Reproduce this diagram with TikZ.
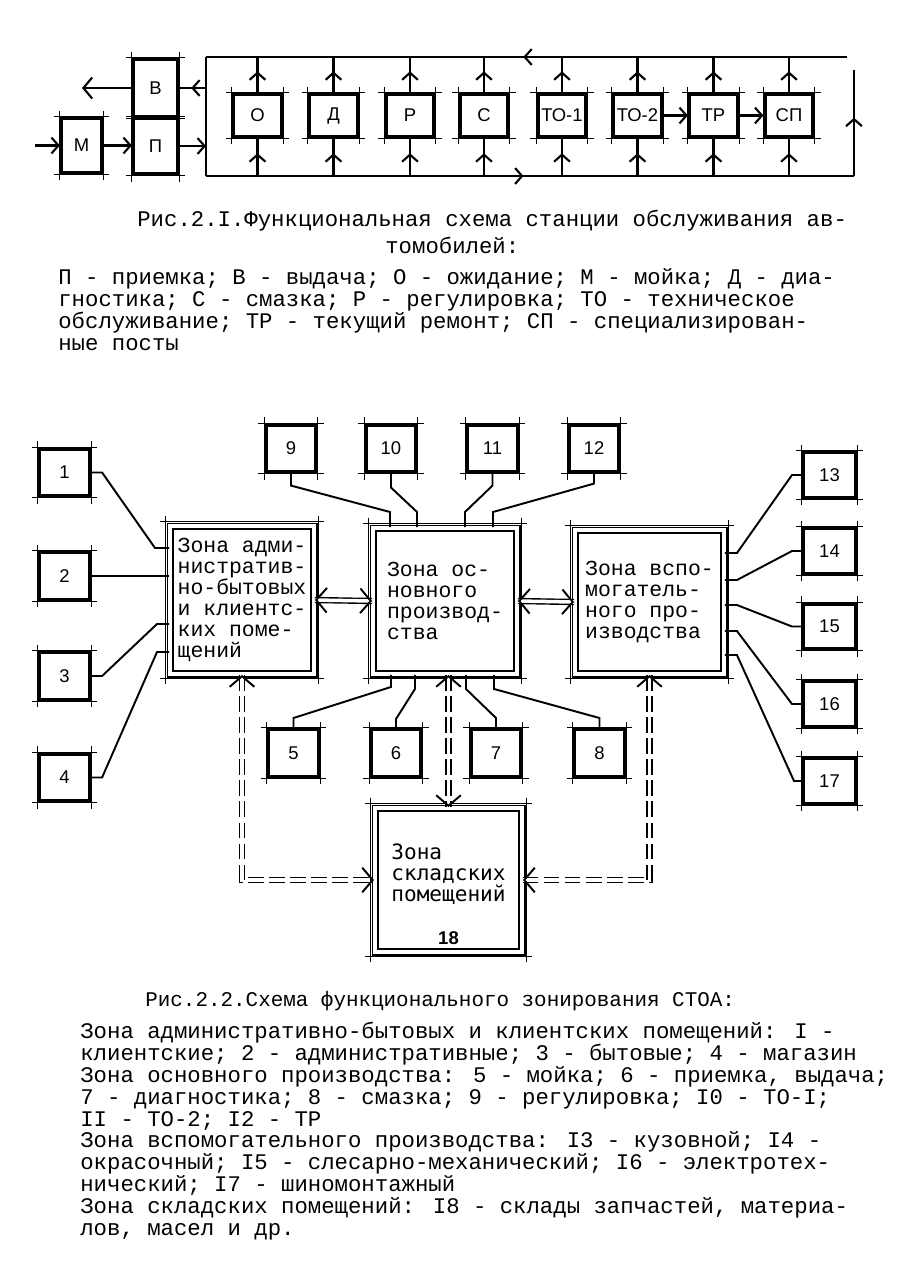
\documentclass[tikz,border=0pt]{standalone}
\usepackage{fontspec}
\newfontfamily\twfont{Liberation Mono}
\newfontfamily\lblfont{Liberation Sans}
\newfontfamily\sansmono{DejaVu Sans Mono}
\usetikzlibrary{arrows.meta, decorations.markings}

\tikzset{
  tick/.style={draw, line width=0.5pt},
  cross/.style={append after command={
    ([shift={(-6-#1,-#1)}]\tikzlastnode.north west) edge[tick] ([shift={(6+#1,-#1)}]\tikzlastnode.north east)
    ([shift={(-6-#1,#1)}]\tikzlastnode.south west) edge[tick] ([shift={(6+#1,#1)}]\tikzlastnode.south east)
    ([shift={(-#1,-6-#1)}]\tikzlastnode.north west) edge[tick] ([shift={(-#1,6+#1)}]\tikzlastnode.south west)
    ([shift={(#1,-6-#1)}]\tikzlastnode.north east) edge[tick] ([shift={(#1,6+#1)}]\tikzlastnode.south east)}},
  cross/.default=0,
  cell/.style={draw, cross, line width=1.8pt, minimum width=1cm, minimum height=0.94cm, inner sep=0pt,
    font=\lblfont\fontsize{10.5pt}{12pt}\selectfont},
  post/.style={cell, minimum width=0.96cm, minimum height=0.84cm},
  zone/.style={draw, cross=3.5, line width=1.1pt, double distance=1.8pt, inner sep=0pt, align=left,
    font=\twfont\fontsize{12.2pt}{12pt}\selectfont},
  link/.style={line width=1.1pt},
  flow/.style={line width=1.2pt, -{Straight Barb[length=4pt, width=9pt]}},
  midflow/.style={line width=1.2pt, postaction={decorate},
    decoration={markings, mark=at position #1 with {\arrow{Straight Barb[length=4pt, width=9pt]}}}},
  midflow/.default=0.6,
  dtips/.style={postaction={decorate, decoration={markings,
    mark=at position 0 with {\pgfsetinnerlinewidth{0pt}\pgfsetdash{}{0pt}\arrowreversed{Straight Barb[length=6pt, width=14pt, line width=1.1pt]}},
    mark=at position 1 with {\pgfsetinnerlinewidth{0pt}\pgfsetdash{}{0pt}\arrow{Straight Barb[length=6pt, width=14pt, line width=1.1pt]}}}}},
  both/.style={double, line width=0.8pt, double distance=2pt, dtips},
  dashboth/.style={both, dash pattern=on 9pt off 3pt},
  legend/.style={anchor=base west, inner sep=0pt, align=left, font=\twfont\fontsize{12.7pt}{12.4pt}\selectfont},
}

\begin{document}
\begin{tikzpicture}[x=0.02cm, y=-0.02cm]
  \useasboundingbox (0,0) rectangle (921,1276);

  % Fig. 2.1
  \node[post, minimum width=0.8cm, minimum height=1.08cm] (m) at (81.5,145.5) {М};
  \node[post, minimum width=0.88cm, minimum height=1.14cm] (v) at (155.5,88) {В};
  \node[post, minimum width=0.88cm, minimum height=1.12cm] (p) at (155.5,146) {П};
  \node[post] (o) at (257.5,115.5) {О};
  \node[post] (d) at (333.5,115.5) {Д};
  \node[post] (r) at (410,115.5) {Р};
  \node[post] (s) at (484,115.5) {С};
  \node[post] (to1) at (562,115.5) {ТО-1};
  \node[post] (to2) at (637.5,115.5) {ТО-2};
  \node[post] (tr) at (713.5,115.5) {ТР};
  \node[post] (sp) at (789,115.5) {СП};

  \coordinate (ftl) at (206,57);
  \coordinate (fbl) at (206,176);
  \coordinate (fbr) at (854,176);
  \coordinate (frt) at (854,70);
  \coordinate (ftr) at (847,57);
  \coordinate (in) at (35,145.5);
  \coordinate (out) at (82,88);

  \draw[line width=1.2pt] (ftl) -- (fbl);
  \draw[midflow=0.49] (fbl) -- (fbr);
  \draw[midflow=0.55] (fbr) -- (frt);
  \draw[midflow=0.505] (ftr) -- (ftl);
  \foreach \b in {o,d,r,s,to1,to2,tr,sp} {
    \draw[midflow] (\b.south |- fbl) -- (\b.south);
    \draw[midflow] (\b.north) -- (\b.north |- ftl);
  }
  \draw[flow] (to2) -- (tr);
  \draw[flow] (tr) -- (sp);
  \draw[flow] (in) -- (m);
  \draw[flow] (m.east) -- (m.east -| p.west);
  \draw[flow] (p.east) -- (p.east -| ftl);
  \draw[midflow=0.55] (v.east -| ftl) -- (v.east);
  \draw[line width=1.2pt, -{Straight Barb[length=5pt, width=12pt]}] (v.west) -- (out);

  \node[legend] (cap1) at (137,226) {Рис.2.I.Функциональная схема станции обслуживания ав-};
  \node[legend] (cap1b) at (385,253) {томобилей:};
  \node[legend] (leg1) at (58,350) {П - приемка; В - выдача; О - ожидание; М - мойка; Д - диа-\\
    гностика; С - смазка; Р - регулировка; ТО - техническое\\
    обслуживание; ТР - текущий ремонт; СП - специализирован-\\
    ные посты};

  % Fig. 2.2
  \node[zone, minimum width=2.88cm, minimum height=2.96cm] (adm) at (242,600)
    {Зона адми-\\нистратив-\\но-бытовых\\и клиентс-\\ких поме-\\щений};
  \node[zone, minimum width=2.88cm, minimum height=2.92cm] (main) at (445,601)
    {Зона ос-\\новного\\производ-\\ства};
  \node[zone, minimum width=2.98cm, minimum height=2.88cm] (aux) at (649.5,602)
    {Зона вспо-\\могатель-\\ного про-\\изводства};
  \node[zone, minimum width=2.94cm, minimum height=2.88cm] (store) at (448.5,880) {};
  \node[inner sep=0pt, align=left, font=\sansmono\fontsize{12pt}{11.8pt}\selectfont] (storelbl) at (448.5,874)
    {Зона\\складских\\помещений};
  \node[inner sep=0pt, font=\lblfont\bfseries\fontsize{10.5pt}{12pt}\selectfont] (storenum) at (448.5,938) {18};

  \node[cell] (n1) at (64.5,472.5) {1};
  \node[cell] (n2) at (64.5,576) {2};
  \node[cell] (n3) at (64.5,676) {3};
  \node[cell] (n4) at (64.5,777.5) {4};
  \node[cell] (n9) at (291,448.5) {9};
  \node[cell] (n10) at (391,448.5) {10};
  \node[cell] (n11) at (492.5,448.5) {11};
  \node[cell] (n12) at (594,448.5) {12};
  \node[cell] (n5) at (293.5,753) {5};
  \node[cell] (n6) at (396,753) {6};
  \node[cell] (n7) at (496,753) {7};
  \node[cell] (n8) at (599.5,753) {8};
  \node[cell, minimum width=1.04cm, minimum height=0.9cm] (n13) at (829.5,475) {13};
  \node[cell, minimum width=1.04cm, minimum height=0.9cm] (n14) at (829.5,551) {14};
  \node[cell, minimum width=1.04cm, minimum height=0.9cm] (n15) at (829.5,626.5) {15};
  \node[cell, minimum width=1.04cm, minimum height=0.9cm] (n16) at (829.5,704) {16};
  \node[cell, minimum width=1.04cm, minimum height=0.9cm] (n17) at (829.5,781) {17};

  \draw[link] (n1.east) -- ++(11,0) -- (155,548) -- ([shift={(0,-52)}]adm.west);
  \draw[link] (n2.east) -- (n2.east -| adm.west);
  \draw[link] (n3.east) -- ++(11,0) -- (157,624) -- ([shift={(0,24)}]adm.west);
  \draw[link] (n4.east) -- ++(11,0) -- (157,652) -- ([shift={(0,52)}]adm.west);

  \draw[link] (n9.south) -- ++(0,12) -- (390,512) -- ([shift={(-55,0)}]main.north);
  \draw[link] (n10.south) -- ++(0,14) -- (417,512) -- ([shift={(-28,0)}]main.north);
  \draw[link] (n11.south) -- ++(0,12) -- (465,512) -- ([shift={(20,0)}]main.north);
  \draw[link] (n12.south) -- ++(0,10) -- (493,512) -- ([shift={(48,0)}]main.north);
  \draw[link] ([shift={(-54,0)}]main.south) -- ++(0,12) -- (293.5,718) -- (n5.north);
  \draw[link] ([shift={(-30,0)}]main.south) -- ++(0,14) -- (396,719) -- (n6.north);
  \draw[link] ([shift={(21,0)}]main.south) -- ++(0,14) -- (496,718) -- (n7.north);
  \draw[link] ([shift={(49,0)}]main.south) -- ++(0,14) -- (599.5,718) -- (n8.north);

  \draw[link] ([shift={(0,-49)}]aux.east) -- ++(12,0) -- (792,475) -- (n13.west);
  \draw[link] ([shift={(0,-22)}]aux.east) -- ++(12,0) -- (792,551) -- (n14.west);
  \draw[link] ([shift={(0,3)}]aux.east) -- ++(12,0) -- (792,626.5) -- (n15.west);
  \draw[link] ([shift={(0,29)}]aux.east) -- ++(12,0) -- (792,704) -- (n16.west);
  \draw[link] ([shift={(0,53)}]aux.east) -- ++(12,0) -- (794,781) -- (n17.west);

  \draw[both] (adm.east) -- (main.west);
  \draw[both] (main.east) -- (aux.west);
  \draw[dashboth] (main.south -| store.north) -- (store.north);
  \draw[dashboth] (adm.south) |- (store.west);
  \draw[dashboth] (aux.south) |- (store.east);

  \node[legend, font=\twfont\fontsize{11.9pt}{12pt}\selectfont] (cap2) at (145,1006)
    {Рис.2.2.Схема функционального зонирования СТОА:};
  \node[legend] (leg2) at (80,1235) {Зона административно-бытовых и клиентских помещений: I -\\
    клиентские; 2 - административные; 3 - бытовые; 4 - магазин\\
    Зона основного производства: 5 - мойка; 6 - приемка, выдача;\\
    7 - диагностика; 8 - смазка; 9 - регулировка; I0 - ТО-I;\\
    II - ТО-2; I2 - ТР\\
    Зона вспомогательного производства: I3 - кузовной; I4 -\\
    окрасочный; I5 - слесарно-механический; I6 - электротех-\\
    нический; I7 - шиномонтажный\\
    Зона складских помещений: I8 - склады запчастей, материа-\\
    лов, масел и др.};
\end{tikzpicture}
\end{document}
